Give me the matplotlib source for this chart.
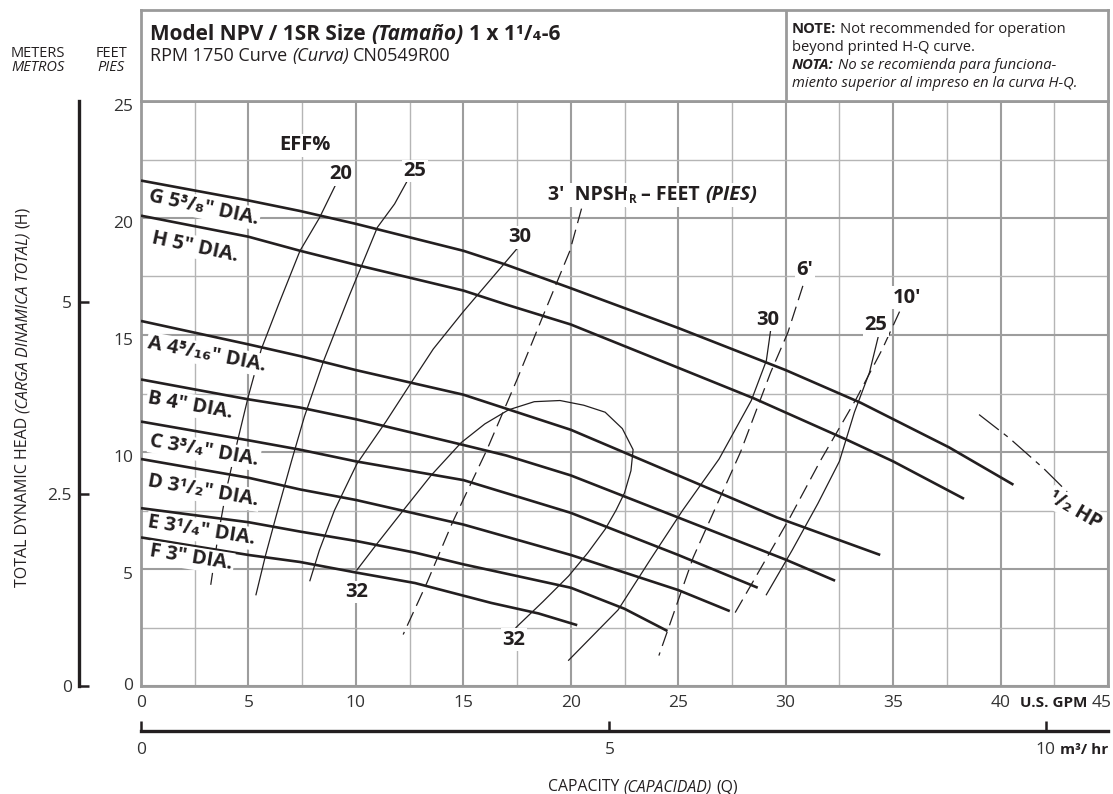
import matplotlib
matplotlib.use("Agg")
import numpy as np
import matplotlib.pyplot as plt
from matplotlib.transforms import IdentityTransform

W, H = 1113, 794
INK = "#231f20"
SANS = ["Open Sans", "DejaVu Sans"]
NARROW = ["Liberation Sans Narrow", "Open Sans", "DejaVu Sans"]
FT_PER_M = 3.2808

plt.rcParams["font.family"] = SANS
plt.rcParams["text.color"] = INK

# ---- axes ----
gpm_ticks = [0, 5, 10, 15, 20, 25, 30, 35, 40, 45]
feet_ticks = [0, 5, 10, 15, 20, 25]
meter_ticks = [0, 2.5, 5]
m3hr_ticks = [0, 5, 10]
m3hr_tick_gpm = [0, 21.8, 42.1]   # where the printed m3/hr ticks sit on the GPM scale

# ---- head-capacity curves per impeller (GPM, feet) ----
G_q = [0, 5, 7.4, 10, 15, 17, 20, 25, 30, 33.5, 37.6, 40.6]
G_h = [21.6, 20.75, 20.3, 19.75, 18.6, 18.0, 17.0, 15.3, 13.5, 12.1, 10.2, 8.6]
H_q = [0, 5, 7.4, 10, 15, 17, 20, 25, 28.5, 32.9, 35, 38.3]
H_h = [20.1, 19.2, 18.6, 18.0, 16.9, 16.3, 15.45, 13.6, 12.3, 10.5, 9.6, 8.0]
A_q = [0, 5, 7.4, 10, 15, 17, 20, 25, 29.6, 34.4]
A_h = [15.6, 14.6, 14.1, 13.5, 12.45, 11.85, 10.95, 9.0, 7.2, 5.6]
B_q = [0, 5, 7.4, 10, 15, 17, 20, 25, 30, 32.3]
B_h = [13.1, 12.25, 11.9, 11.4, 10.3, 9.85, 9.0, 7.2, 5.4, 4.5]
C_q = [0, 5, 7.4, 10, 15, 20, 25, 28.7]
C_h = [11.3, 10.5, 10.1, 9.6, 8.8, 7.4, 5.6, 4.2]
D_q = [0, 5, 7.4, 10, 15, 20, 25, 27.4]
D_h = [9.7, 8.9, 8.4, 7.95, 6.9, 5.6, 4.1, 3.2]
E_q = [0, 5, 7.4, 10, 12.75, 15, 20, 22.5, 24.5]
E_h = [7.6, 7.0, 6.6, 6.2, 5.7, 5.2, 4.2, 3.3, 2.35]
F_q = [0, 5, 7.4, 10, 12.75, 16.3, 18.5, 20.3]
F_h = [6.35, 5.6, 5.3, 4.85, 4.4, 3.55, 3.1, 2.6]
dia_labels = ["G 5³/₈\" DIA.", "H 5\" DIA.", "A 4⁵/₁₆\" DIA.", "B 4\" DIA.",
              "C 3³/₄\" DIA.", "D 3¹/₂\" DIA.", "E 3¹/₄\" DIA.", "F 3\" DIA."]

# ---- efficiency curves (GPM, feet) ----
eff20_q = [9.1, 8.3, 7.4, 6.4, 5.6, 5.0, 4.5, 4.0, 3.6, 3.25]
eff20_h = [21.5, 20.0, 18.6, 16.3, 14.4, 12.4, 10.5, 8.5, 6.5, 4.35]
eff25_q = [12.4, 11.8, 11.0, 9.7, 8.5, 7.6, 7.0, 6.3, 5.8, 5.35]
eff25_h = [21.6, 20.6, 19.6, 16.7, 13.9, 11.5, 9.6, 7.3, 5.6, 3.9]
eff30a_q = [17.6, 16.3, 15.0, 13.6, 12.6, 11.4, 10.05, 9.0, 8.3, 7.86]
eff30a_h = [18.8, 17.4, 16.0, 14.4, 13.0, 11.3, 9.5, 7.5, 5.8, 4.5]
eff32_q = [10.05, 11.0, 12.2, 13.5, 14.9, 16.0, 17.1, 18.3, 19.5, 20.6, 21.6, 22.4,
           22.9, 22.8, 22.5, 22.1, 21.6, 20.8, 19.9, 18.7, 17.45]
eff32_h = [4.96, 6.1, 7.5, 9.0, 10.4, 11.2, 11.8, 12.15, 12.2, 12.0, 11.7, 11.0,
           10.1, 9.2, 8.25, 7.5, 6.7, 5.7, 4.7, 3.6, 2.5]
eff30b_q = [29.3, 29.1, 28.4, 26.9, 25.2, 23.7, 22.2, 19.9]
eff30b_h = [15.2, 13.9, 12.2, 9.7, 7.5, 5.4, 3.25, 1.1]
eff25b_q = [34.3, 33.9, 33.2, 32.5, 31.5, 30.3, 29.1]
eff25b_h = [14.9, 13.4, 11.7, 9.6, 7.8, 5.8, 3.9]
eff_labels = ["20", "25", "30", "32", "32", "30", "25"]

# ---- NPSHr curves (GPM, feet) ----
npsh3_q = [20.5, 19.96, 18.7, 17.5, 16.1, 14.5, 13.3, 12.2]
npsh3_h = [20.4, 18.6, 15.8, 13.1, 10.1, 7.0, 4.4, 2.2]
npsh6_q = [30.8, 30.1, 29.3, 27.9, 25.7, 24.1]
npsh6_h = [17.1, 15.1, 13.4, 10.0, 5.5, 1.3]
npsh10_q = [35.3, 34.5, 33.3, 31.6, 30.2, 27.5]
npsh10_h = [16.0, 14.4, 12.3, 9.6, 7.2, 2.9]
npsh_labels = ["6'", "10'"]

# ---- 1/2 HP power limit ----
hp_q = [39.0, 40.4, 42.0, 43.1]
hp_h = [11.6, 10.6, 9.3, 8.3]

fig = plt.figure(figsize=(W / 100, H / 100), dpi=100)


def px(x, y):
    # image pixel (top-left origin) -> figure fraction
    return x / W, 1 - y / H


def text_w(s, kw):
    t = fig.text(0, 0, s, transform=IdentityTransform(), **kw)
    w = t.get_window_extent(fig.canvas.get_renderer()).width
    t.remove()
    return w


def run(x, y, parts, rot=0, ha="left", **common):
    # draw a line of mixed-style text starting at image pixel x, baseline y
    items, pos = [], 0.0
    for s, kw in parts:
        kw = {**common, **kw}
        dy = kw.pop("dy", 0)
        sp = text_w("x x", kw) - text_w("xx", kw)
        lead = len(s) - len(s.lstrip(" "))
        trail = len(s) - len(s.rstrip(" "))
        core = s.strip(" ")
        pos += lead * sp
        items.append((core, kw, pos, dy))
        pos += text_w(core, kw) + trail * sp
    shift = {"left": 0, "center": pos / 2, "right": pos}[ha]
    for core, kw, p, dy in items:
        p -= shift
        if rot == 90:
            fig.text(x - dy, H - y + p, core, rotation=90, rotation_mode="anchor",
                     ha="left", va="baseline", transform=IdentityTransform(), **kw)
        else:
            fig.text(x + p, H - y + dy, core, ha="left", va="baseline",
                     transform=IdentityTransform(), **kw)


# ---------------- main chart ----------------
ax = fig.add_axes([141 / W, 1 - 686 / H, 967 / W, 585 / H])
ax.set_xlim(0, 45)
ax.set_ylim(0, 25)
for v in np.arange(0, 45.01, 2.5):
    major = v % 5 == 0
    ax.axvline(v, color="#9d9d9d" if major else "#b5b5b5", lw=1.5 if major else 1.0, zorder=0)
for v in np.arange(0, 25.01, 2.5):
    major = v % 5 == 0
    ax.axhline(v, color="#9d9d9d" if major else "#b5b5b5", lw=1.5 if major else 1.0, zorder=0)
for s in ax.spines.values():
    s.set_color("#9a9a9a")
    s.set_linewidth(2.0)
ax.set_xticks([])
ax.set_yticks([])

for v in feet_ticks:
    ax.annotate(f"{v}", (0, v), xytext=(-8, -6 if v else 0), textcoords="offset pixels",
                ha="right", va="center", fontsize=12.5, color="#333333", annotation_clip=False)
for v in gpm_ticks:
    ax.annotate(f"{v}", (v, 0), xytext=(-6 if v == 45 else 0, -17), textcoords="offset pixels",
                ha="center", va="center", fontsize=12.5, color="#333333", annotation_clip=False)

heads = [(G_q, G_h), (H_q, H_h), (A_q, A_h), (B_q, B_h),
         (C_q, C_h), (D_q, D_h), (E_q, E_h), (F_q, F_h)]
for q, h in heads:
    ax.plot(q, h, color=INK, lw=1.9, solid_capstyle="butt", zorder=3)

effs = [(eff20_q, eff20_h), (eff25_q, eff25_h), (eff30a_q, eff30a_h),
        (eff32_q, eff32_h), (eff30b_q, eff30b_h), (eff25b_q, eff25b_h)]
for q, h in effs:
    ax.plot(q, h, color=INK, lw=0.9, zorder=2)

for q, h in [(npsh3_q, npsh3_h), (npsh6_q, npsh6_h), (npsh10_q, npsh10_h)]:
    ax.plot(q, h, color=INK, lw=0.9, ls=(0, (12, 5.5)), zorder=2)
ax.plot(hp_q, hp_h, color=INK, lw=0.9, ls=(0, (20, 5, 4, 5)), zorder=2)

box = dict(fc="white", ec="none", pad=1.0)
bold = dict(fontweight="bold", fontsize=14.5, color=INK)

dia_anchor = [(0.37, 20.94), (0.51, 19.15), (0.33, 14.66), (0.33, 12.31),
              (0.42, 10.47), (0.33, 8.76), (0.33, 7.0), (0.42, 5.75)]
dia_rot = [-12, -12, -11, -10, -10, -10, -9, -9]
for lab, (x, y), r in zip(dia_labels, dia_anchor, dia_rot):
    ax.text(x, y, lab, rotation=r, rotation_mode="anchor", ha="left", va="center",
            bbox=box, zorder=6, **bold)

eff_anchor = [(9.31, 21.86), (12.75, 22.01), (17.64, 19.17), (10.05, 4.02),
              (17.36, 1.97), (29.18, 15.66), (34.2, 15.41)]
for lab, (x, y) in zip(eff_labels, eff_anchor):
    ax.text(x, y, lab, ha="center", va="center", bbox=box, zorder=6, **bold)
ax.text(7.63, 23.1, "EFF%", ha="center", va="center", bbox=box, zorder=6, **bold)

npsh_anchor = [(30.9, 17.78), (35.64, 16.6)]
for lab, (x, y) in zip(npsh_labels, npsh_anchor):
    ax.text(x, y, lab, ha="center", va="center", bbox=box, zorder=6, **bold)

ax.text(43.46, 7.52, "¹/₂ HP", rotation=-30, rotation_mode="anchor", ha="center",
        va="center", bbox=box, zorder=6, **bold)

nb = dict(fontweight="bold", fontsize=14, bbox=dict(fc="white", ec="none", pad=1.5), zorder=6)
run(548, 200, [("3'  NPSH", {}), ("R", dict(fontsize=8.5, dy=-3)), (" – FEET ", {}),
               ("(PIES)", dict(fontstyle="italic"))], **nb)

# ---------------- header box ----------------
hax = fig.add_axes([141 / W, 1 - 101 / H, 967 / W, 91 / H])
hax.set_xlim(0, 45)
hax.set_ylim(0, 1)
hax.axvline(30, color="#9a9a9a", lw=2.0)
hax.set_xticks([])
hax.set_yticks([])
for s in hax.spines.values():
    s.set_color("#9a9a9a")
    s.set_linewidth(2.0)

tb = dict(family=NARROW, fontweight="bold", fontsize=15)
run(150, 40, [("Model NPV / 1SR Size ", {}), ("(Tamaño)", dict(fontstyle="italic")),
              (" 1 x 1¹/₄-6", {})], **tb)
run(150, 61, [("RPM 1750 Curve ", {}), ("(Curva)", dict(fontstyle="italic")),
              (" CN0549R00", {})], fontsize=13)
nt = dict(fontsize=10.6)
run(792, 33, [("NOTE:", dict(fontweight="bold")), (" Not recommended for operation", {})], **nt)
run(792, 51, [("beyond printed H-Q curve.", {})], **nt)
run(792, 69, [("NOTA:", dict(fontweight="bold", fontstyle="italic")),
              (" No se recomienda para funciona-", dict(fontstyle="italic"))], **nt)
run(792, 87, [("miento superior al impreso en la curva H-Q.", dict(fontstyle="italic"))], **nt)

# ---------------- meters scale ----------------
mx = fig.add_axes([79 / W, 1 - 686 / H, 0.0005, 585 / H])
mx.set_ylim(0, 25 / FT_PER_M)
mx.patch.set_visible(False)
for k in ["top", "right", "bottom"]:
    mx.spines[k].set_visible(False)
mx.spines["left"].set_color(INK)
mx.spines["left"].set_linewidth(2.4)
mx.set_xticks([])
mx.set_yticks(meter_ticks)
mx.set_yticklabels(["0", "2.5", "5"], fontsize=12.5, color="#333333")
mx.tick_params(axis="y", direction="in", length=7.5, width=1.8, color=INK, pad=5)

# ---------------- m3/hr scale ----------------
qx = fig.add_axes([141 / W, 1 - 731 / H, 967 / W, 0.0005])
qx.set_xlim(0, 45)
qx.patch.set_visible(False)
for k in ["top", "right", "left"]:
    qx.spines[k].set_visible(False)
qx.spines["bottom"].set_color(INK)
qx.spines["bottom"].set_linewidth(2.4)
qx.set_yticks([])
qx.set_xticks(m3hr_tick_gpm)
qx.set_xticklabels([str(v) for v in m3hr_ticks], fontsize=12.5, color="#333333")
qx.tick_params(axis="x", direction="in", length=7, width=1.8, color=INK, pad=8)

# ---------------- units and titles ----------------
fig.text(*px(1054, 703), "U.S. GPM", ha="center", va="center", fontweight="bold", fontsize=11)
fig.text(*px(1084, 750), "m³/ hr", ha="center", va="center", fontweight="bold", fontsize=11)

lt = dict(fontsize=10.5)
run(11, 57, [("METERS", {})], **lt)
run(11, 71, [("METROS", dict(fontstyle="italic"))], **lt)
run(127, 57, [("FEET", {})], ha="right", **lt)
run(125, 71, [("PIES", dict(fontstyle="italic"))], ha="right", **lt)

run(27, 397, [("TOTAL DYNAMIC HEAD ", {}), ("(CARGA DINAMICA TOTAL)", dict(fontstyle="italic")),
              (" (H)", {})], rot=90, ha="center", fontsize=11.5)
run(643, 791, [("CAPACITY ", {}), ("(CAPACIDAD)", dict(fontstyle="italic")), (" (Q)", {})],
    ha="center", fontsize=11.3)

fig.savefig("out.png", dpi=100)
